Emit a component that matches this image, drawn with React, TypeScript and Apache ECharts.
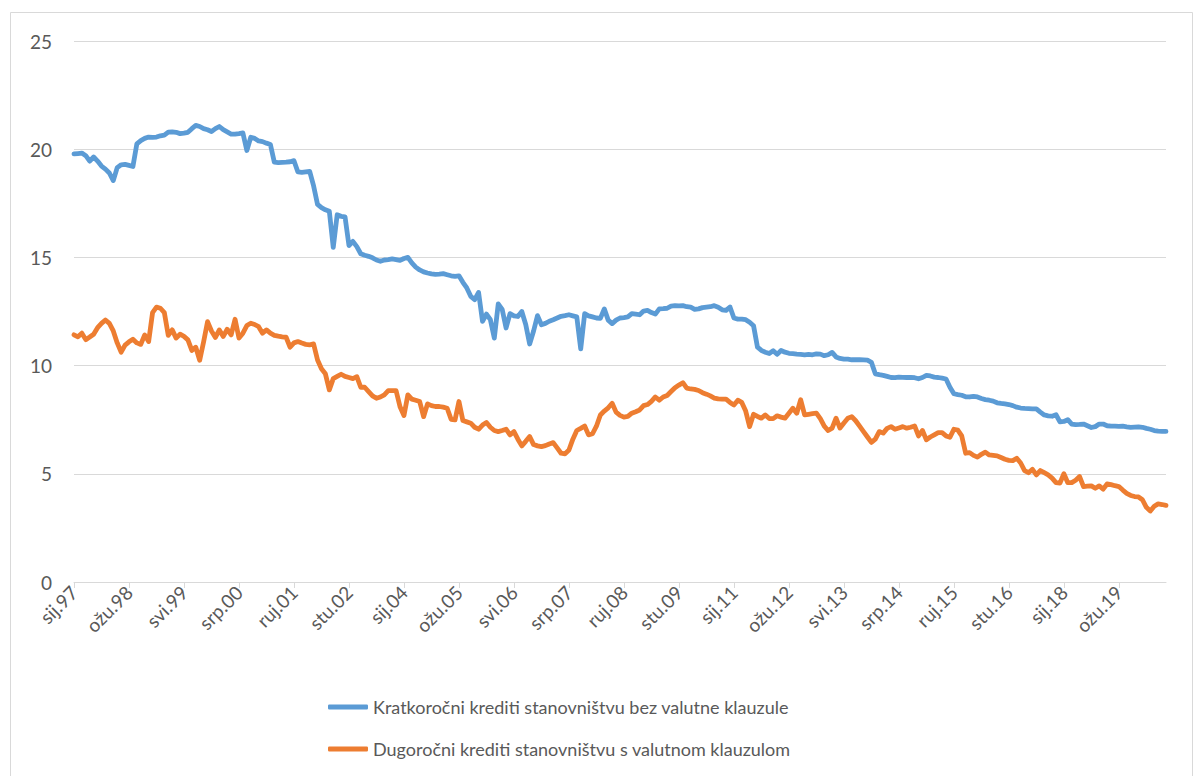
import React, { useEffect, useRef } from "react";
import * as echarts from "echarts";

const monthNames = ["sij", "velj", "ožu", "tra", "svi", "lip", "srp", "kol", "ruj", "lis", "stu", "pro"];
const startYear = 1997;
const pointCount = 279;

const categories: string[] = [];
for (let i = 0; i < pointCount; i++) {
  const y = startYear + Math.floor(i / 12);
  categories.push(monthNames[i % 12] + "." + String(y % 100).padStart(2, "0"));
}

const seriesNames = [
  "Kratkoročni krediti stanovništvu bez valutne klauzule",
  "Dugoročni krediti stanovništvu s valutnom klauzulom",
];

const shortTerm: number[] = [
  // 1997
  19.78, 19.80, 19.82, 19.70, 19.45, 19.64, 19.45, 19.22, 19.08, 18.90, 18.55, 19.15,
  // 1998
  19.28, 19.30, 19.25, 19.20, 20.25, 20.40, 20.50, 20.56, 20.55, 20.56, 20.62, 20.65,
  // 1999
  20.79, 20.80, 20.78, 20.72, 20.74, 20.78, 20.95, 21.10, 21.05, 20.95, 20.90, 20.82,
  // 2000
  20.95, 21.05, 20.90, 20.80, 20.70, 20.70, 20.72, 20.75, 19.94, 20.55, 20.50, 20.38,
  // 2001
  20.35, 20.28, 20.22, 19.40, 19.38, 19.39, 19.40, 19.42, 19.47, 18.95, 18.93, 18.95,
  // 2002
  18.97, 18.30, 17.45, 17.30, 17.20, 17.13, 15.46, 16.97, 16.90, 16.87, 15.55, 15.74,
  // 2003
  15.50, 15.17, 15.10, 15.05, 14.98, 14.88, 14.82, 14.88, 14.90, 14.93, 14.90, 14.86,
  // 2004
  14.95, 15.00, 14.75, 14.55, 14.42, 14.33, 14.28, 14.24, 14.22, 14.23, 14.25, 14.20,
  // 2005
  14.15, 14.12, 14.15, 13.85, 13.59, 13.20, 13.05, 13.38, 12.04, 12.38, 12.12, 11.27,
  // 2006
  12.85, 12.60, 11.74, 12.40, 12.30, 12.27, 12.50, 11.90, 11.00, 11.60, 12.31, 11.89,
  // 2007
  11.95, 12.05, 12.12, 12.20, 12.28, 12.31, 12.35, 12.30, 12.25, 10.77, 12.40, 12.30,
  // 2008
  12.25, 12.20, 12.18, 12.62, 12.10, 11.94, 12.10, 12.20, 12.22, 12.25, 12.40, 12.38,
  // 2009
  12.35, 12.52, 12.55, 12.45, 12.38, 12.62, 12.63, 12.65, 12.75, 12.77, 12.76, 12.77,
  // 2010
  12.72, 12.70, 12.60, 12.62, 12.68, 12.70, 12.72, 12.77, 12.70, 12.58, 12.55, 12.71,
  // 2011
  12.20, 12.15, 12.15, 12.12, 12.00, 11.84, 10.85, 10.70, 10.62, 10.56, 10.69, 10.52,
  // 2012
  10.70, 10.62, 10.57, 10.55, 10.53, 10.52, 10.50, 10.52, 10.50, 10.54, 10.53, 10.46,
  // 2013
  10.50, 10.61, 10.40, 10.33, 10.30, 10.30, 10.27, 10.28, 10.27, 10.26, 10.25, 10.15,
  // 2014
  9.62, 9.58, 9.55, 9.50, 9.45, 9.44, 9.47, 9.46, 9.45, 9.46, 9.44, 9.39,
  // 2015
  9.45, 9.55, 9.52, 9.47, 9.45, 9.42, 9.38, 9.00, 8.70, 8.66, 8.63, 8.56,
  // 2016
  8.55, 8.58, 8.55, 8.48, 8.43, 8.40, 8.36, 8.28, 8.25, 8.23, 8.20, 8.15,
  // 2017
  8.08, 8.04, 8.02, 8.01, 8.00, 8.00, 7.85, 7.72, 7.68, 7.66, 7.73, 7.40,
  // 2018
  7.42, 7.50, 7.30, 7.27, 7.28, 7.30, 7.22, 7.14, 7.18, 7.30, 7.30, 7.22,
  // 2019
  7.20, 7.20, 7.19, 7.20, 7.17, 7.15, 7.16, 7.17, 7.15, 7.10, 7.06, 7.00,
  // 2020
  6.97, 6.96, 6.96,
];

const longTermFx: number[] = [
  // 1997
  11.42, 11.33, 11.50, 11.20, 11.32, 11.45, 11.75, 11.95, 12.11, 11.95, 11.60, 11.05,
  // 1998
  10.62, 10.95, 11.10, 11.22, 11.05, 10.98, 11.42, 11.11, 12.45, 12.70, 12.65, 12.45,
  // 1999
  11.40, 11.65, 11.27, 11.45, 11.35, 11.19, 10.70, 10.85, 10.25, 11.10, 12.03, 11.60,
  // 2000
  11.30, 11.65, 11.35, 11.68, 11.42, 12.14, 11.27, 11.50, 11.85, 11.96, 11.90, 11.80,
  // 2001
  11.50, 11.65, 11.50, 11.40, 11.36, 11.33, 11.31, 10.85, 11.05, 11.11, 11.04, 10.98,
  // 2002
  10.96, 11.00, 10.26, 9.85, 9.62, 8.88, 9.40, 9.50, 9.60, 9.50, 9.45, 9.40,
  // 2003
  9.49, 9.00, 9.00, 8.80, 8.60, 8.49, 8.55, 8.65, 8.84, 8.84, 8.84, 8.10,
  // 2004
  7.69, 8.65, 8.45, 8.40, 8.34, 7.64, 8.23, 8.15, 8.11, 8.11, 8.08, 8.03,
  // 2005
  7.52, 7.49, 8.34, 7.46, 7.40, 7.34, 7.15, 7.06, 7.25, 7.37, 7.15, 7.00,
  // 2006
  6.95, 7.00, 7.06, 6.80, 6.95, 6.60, 6.29, 6.50, 6.72, 6.35, 6.29, 6.26,
  // 2007
  6.30, 6.38, 6.44, 6.20, 5.95, 5.92, 6.10, 6.60, 7.00, 7.10, 7.21, 6.80,
  // 2008
  6.85, 7.20, 7.72, 7.90, 8.05, 8.26, 7.85, 7.70, 7.62, 7.65, 7.80, 7.87,
  // 2009
  7.95, 8.15, 8.20, 8.35, 8.55, 8.40, 8.55, 8.62, 8.80, 8.98, 9.10, 9.21,
  // 2010
  8.96, 8.92, 8.90, 8.85, 8.75, 8.68, 8.60, 8.50, 8.46, 8.45, 8.45, 8.30,
  // 2011
  8.18, 8.40, 8.30, 7.90, 7.18, 7.75, 7.65, 7.57, 7.72, 7.55, 7.55, 7.68,
  // 2012
  7.62, 7.57, 7.80, 8.03, 7.80, 8.42, 7.72, 7.75, 7.78, 7.80, 7.55, 7.20,
  // 2013
  7.00, 7.11, 7.57, 7.11, 7.35, 7.57, 7.64, 7.45, 7.20, 6.95, 6.70, 6.45,
  // 2014
  6.60, 6.95, 6.88, 7.10, 7.18, 7.06, 7.12, 7.18, 7.11, 7.15, 7.21, 6.75,
  // 2015
  7.00, 6.57, 6.70, 6.80, 6.90, 6.90, 6.75, 6.69, 7.06, 7.02, 6.75, 5.95,
  // 2016
  5.98, 5.85, 5.77, 5.90, 6.00, 5.87, 5.85, 5.83, 5.75, 5.67, 5.62, 5.61,
  // 2017
  5.72, 5.50, 5.15, 5.05, 5.21, 4.95, 5.15, 5.05, 4.95, 4.80, 4.59, 4.57,
  // 2018
  5.00, 4.59, 4.59, 4.70, 4.87, 4.41, 4.43, 4.44, 4.33, 4.44, 4.29, 4.53,
  // 2019
  4.50, 4.45, 4.41, 4.25, 4.10, 4.00, 3.95, 3.93, 3.80, 3.45, 3.28, 3.50,
  // 2020
  3.61, 3.58, 3.54,
];

const yTicks = { min: 0, max: 25, interval: 5 };
const colors = ["#5B9BD5", "#ED7D31"];
const FONT = "Lato";
const TEXT = "#595959";
const GRID = "#D9D9D9";

export default function App() {
  const ref = useRef<HTMLDivElement>(null);
  useEffect(() => {
    if (!ref.current) return;
    const chart = echarts.init(ref.current, undefined, { renderer: "svg" });
    chart.setOption({
      animation: false,
      backgroundColor: "#ffffff",
      textStyle: { fontFamily: FONT },
      graphic: [
        {
          type: "rect",
          shape: { x: 10.5, y: 12.5, width: 1182, height: 800 },
          style: { fill: "none", stroke: GRID, lineWidth: 1 },
          silent: true,
        },
      ],
      grid: { left: 74, right: 37, top: 41, bottom: 194 },
      legend: {
        orient: "vertical",
        left: 323,
        top: 693,
        itemGap: 24,
        itemWidth: 40,
        itemHeight: 5,
        icon: "roundRect",
        textStyle: { fontFamily: FONT, fontSize: 18, color: TEXT },
        data: seriesNames,
      },
      xAxis: {
        type: "category",
        data: categories,
        boundaryGap: false,
        axisLine: { lineStyle: { color: GRID, width: 1 } },
        axisTick: { show: true, interval: 13, length: 6, lineStyle: { color: GRID } },
        axisLabel: {
          interval: 13,
          rotate: 45,
          margin: 7,
          fontFamily: FONT,
          fontSize: 19,
          color: TEXT,
        },
        splitLine: { show: false },
      },
      yAxis: {
        type: "value",
        min: yTicks.min,
        max: yTicks.max,
        interval: yTicks.interval,
        axisLine: { show: false },
        axisTick: { show: false },
        axisLabel: { fontFamily: FONT, fontSize: 19, color: TEXT, margin: 22 },
        splitLine: { lineStyle: { color: GRID, width: 1 } },
      },
      series: [
        {
          name: seriesNames[0],
          type: "line",
          data: shortTerm,
          showSymbol: false,
          symbol: "none",
          color: colors[0],
          lineStyle: { color: colors[0], width: 4.8, join: "round", cap: "round" },
        },
        {
          name: seriesNames[1],
          type: "line",
          data: longTermFx,
          showSymbol: false,
          symbol: "none",
          color: colors[1],
          lineStyle: { color: colors[1], width: 4.8, join: "round", cap: "round" },
        },
      ],
    });
    return () => chart.dispose();
  }, []);
  return (
    <div
      ref={ref}
      style={{ position: "absolute", left: 0, top: 0, width: 1203, height: 776 }}
    />
  );
}
